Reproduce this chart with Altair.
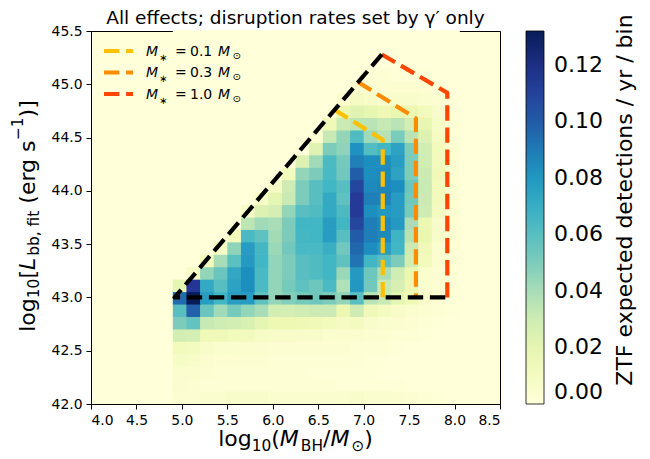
import altair as alt
import pandas as pd

# ---------------- data -----------------
# histogram bins: log10(M_BH) columns and log10(L_bb) rows
X_START, X_STEP, N_COLS = 4.9, 0.15, 21
Y_START, Y_STEP, N_ROWS = 42.0, 3.5 / 30, 30

# expected detections / yr / bin, in units of 1e-3, one list per row (bottom row first)
r00 = [3, 3, 5, 5, 6, 6, 6, 5, 5, 5, 5, 5, 5, 6, 5, 5, 4, 3, 2, 1, 0]
r01 = [4, 3, 2, 2, 2, 2, 2, 2, 2, 2, 2, 2, 1, 1, 1, 1, 1, 0, 0, 0, 0]
r02 = [5, 4, 3, 2, 2, 2, 2, 2, 2, 2, 1, 1, 1, 1, 1, 0, 0, 0, 0, 0, 0]
r03 = [8, 7, 4, 3, 3, 3, 3, 2, 2, 2, 2, 2, 2, 2, 1, 1, 0, 0, 0, 0, 0]
r04 = [11, 10, 6, 5, 5, 4, 4, 3, 3, 3, 3, 3, 3, 2, 2, 2, 1, 0, 0, 0, 0]
r05 = [28, 27, 14, 13, 12, 11, 8, 7, 7, 6, 6, 5, 4, 5, 3, 3, 2, 2, 1, 0, 0]
r06 = [50, 57, 33, 30, 28, 25, 20, 16, 16, 15, 13, 12, 9, 10, 6, 5, 4, 3, 2, 1, 0]
r07 = [60, 98, 55, 42, 52, 45, 40, 28, 27, 30, 31, 31, 17, 30, 14, 10, 7, 5, 3, 2, 1]
r08 = [95, 132, 77, 66, 77, 78, 58, 45, 49, 52, 54, 50, 45, 60, 36, 32, 20, 13, 6, 3, 1]
r09 = [20, 115, 72, 60, 75, 83, 63, 45, 52, 58, 54, 63, 38, 80, 53, 33, 26, 16, 5, 3, 1]
r10 = [0, 8, 45, 55, 73, 83, 64, 45, 50, 60, 62, 66, 43, 79, 54, 40, 29, 18, 5, 3, 1]
r11 = [0, 0, 12, 40, 59, 79, 66, 45, 50, 60, 62, 66, 58, 92, 66, 60, 50, 29, 12, 4, 2]
r12 = [0, 0, 0, 8, 46, 78, 65, 43, 53, 64, 64, 69, 53, 96, 84, 77, 66, 31, 14, 5, 2]
r13 = [0, 0, 0, 0, 12, 63, 58, 41, 50, 65, 66, 77, 60, 100, 89, 85, 67, 37, 18, 6, 3]
r14 = [0, 0, 0, 0, 0, 35, 42, 40, 50, 66, 66, 77, 66, 108, 89, 85, 79, 40, 17, 6, 3]
r15 = [0, 0, 0, 0, 0, 8, 24, 27, 45, 60, 62, 72, 63, 113, 83, 80, 78, 52, 30, 10, 3]
r16 = [0, 0, 0, 0, 0, 0, 8, 20, 32, 50, 60, 72, 58, 113, 88, 87, 78, 53, 31, 12, 3]
r17 = [0, 0, 0, 0, 0, 0, 0, 8, 30, 50, 60, 66, 60, 108, 85, 86, 83, 55, 32, 12, 3]
r18 = [0, 0, 0, 0, 0, 0, 0, 0, 12, 45, 50, 64, 53, 99, 83, 85, 75, 50, 31, 13, 3]
r19 = [0, 0, 0, 0, 0, 0, 0, 0, 0, 24, 42, 63, 52, 88, 83, 83, 77, 50, 29, 12, 3]
r20 = [0, 0, 0, 0, 0, 0, 0, 0, 0, 0, 22, 50, 46, 82, 61, 66, 75, 50, 29, 12, 3]
r21 = [0, 0, 0, 0, 0, 0, 0, 0, 0, 0, 3, 33, 45, 62, 42, 37, 51, 36, 24, 9, 2]
r22 = [0, 0, 0, 0, 0, 0, 0, 0, 0, 0, 0, 14, 31, 35, 36, 33, 36, 27, 19, 8, 2]
r23 = [0, 0, 0, 0, 0, 0, 0, 0, 0, 0, 0, 0, 18, 22, 19, 15, 18, 17, 12, 6, 1]
r24 = [0, 0, 0, 0, 0, 0, 0, 0, 0, 0, 0, 0, 4, 9, 7, 5, 6, 6, 5, 3, 1]
r25 = [0, 0, 0, 0, 0, 0, 0, 0, 0, 0, 0, 0, 0, 4, 3, 3, 3, 3, 3, 2, 0]
r26 = [0, 0, 0, 0, 0, 0, 0, 0, 0, 0, 0, 0, 0, 0, 2, 2, 1, 1, 1, 0, 0]
r27 = [0] * 21
r28 = [0] * 21
r29 = [0] * 21
ROWS = [r00, r01, r02, r03, r04, r05, r06, r07, r08, r09, r10, r11, r12, r13, r14,
        r15, r16, r17, r18, r19, r20, r21, r22, r23, r24, r25, r26, r27, r28, r29]

# dashed boundaries (log10 M_BH, log10 L)
yellow_x = [6.68, 7.21, 7.21]
yellow_y = [44.76, 44.48, 43.0]
orange_x = [6.94, 7.575, 7.575]
orange_y = [45.02, 44.68, 43.0]
red_x = [7.20, 7.92, 7.92]
red_y = [45.28, 44.92, 43.0]
black_x = [7.20, 4.92, 7.92]
black_y = [45.28, 43.0, 43.0]

legend_values = ["0.1", "0.3", "1.0"]
legend_colors = ["#FFC000", "#FF8C00", "#FF4500"]

x_ticks = [4.0, 4.5, 5.0, 5.5, 6.0, 6.5, 7.0, 7.5, 8.0, 8.5]
y_ticks = [42.0, 42.5, 43.0, 43.5, 44.0, 44.5, 45.0, 45.5]
cbar_ticks = [0.0, 0.02, 0.04, 0.06, 0.08, 0.10, 0.12]
VMAX = 0.132

YLGNBU = ["#ffffd9", "#edf8b1", "#c7e9b4", "#7fcdbb", "#41b6c4",
          "#1d91c0", "#225ea8", "#253494", "#081d58"]

# ---------------- tables -----------------
cells = []
for j, row in enumerate(ROWS):
    for i, v in enumerate(row):
        x0 = X_START + i * X_STEP
        y0 = Y_START + j * Y_STEP
        cells.append({"x0": x0, "x1": x0 + X_STEP, "y0": y0, "y1": y0 + Y_STEP, "v": v / 1000.0})
cells = pd.DataFrame(cells)

FONT = "DejaVu Sans"
xscale = alt.Scale(domain=[4.0, 8.5], nice=False, zero=False)
yscale = alt.Scale(domain=[42.0, 45.5], nice=False, zero=False)
xaxis = alt.Axis(values=x_ticks, format=".1f", title=None, grid=False)
yaxis = alt.Axis(values=y_ticks, format=".1f", title=None, grid=False)
cdomain = [VMAX * k / 8 for k in range(9)]
cscale = alt.Scale(domain=cdomain, range=YLGNBU, interpolate="rgb")

# tiny overlap offsets hide antialiasing seams between neighbouring cells
heat = alt.Chart(cells).mark_rect(x2Offset=0.7, y2Offset=-0.7).encode(
    x=alt.X("x0:Q", scale=xscale, axis=xaxis),
    x2="x1:Q",
    y=alt.Y("y0:Q", scale=yscale, axis=yaxis),
    y2="y1:Q",
    color=alt.Color("v:Q", scale=cscale, legend=alt.Legend(
        type="gradient", orient="none", legendX=435, legendY=0, direction="vertical",
        gradientLength=373, gradientThickness=18, values=cbar_ticks, format=".2f",
        labelFontSize=22, labelOffset=10, labelBaseline="middle", labelFont=FONT,
        labelColor="black", labelOverlap=False, title=None, padding=0,
        gradientStrokeColor="black", gradientStrokeWidth=0.8)),
)

DASH = [15.4, 6.7]


def dashed(xs, ys, color):
    df = pd.DataFrame({"x": xs, "y": ys, "o": list(range(len(xs)))})
    return alt.Chart(df).mark_line(strokeDash=DASH, strokeWidth=4.2, strokeCap="butt",
                                   strokeJoin="round", color=color).encode(
        x=alt.X("x:Q", scale=xscale, axis=xaxis),
        y=alt.Y("y:Q", scale=yscale, axis=yaxis),
        order="o:Q")


lines = [dashed(yellow_x, yellow_y, legend_colors[0]),
         dashed(orange_x, orange_y, legend_colors[1]),
         dashed(red_x, red_y, legend_colors[2]),
         dashed(black_x, black_y, "black")]

# ---------------- text helpers -----------------
W = {' ': .318, '(': .390, ')': .390, '[': .390, ']': .390, ',': .318, '.': .318,
     '/': .337, '=': .838, '−': .838, 'a': .613, 'b': .635, 'c': .550, 'd': .635,
     'e': .615, 'f': .352, 'g': .635, 'h': .634, 'i': .278, 'l': .278, 'n': .634,
     'o': .612, 'p': .635, 'r': .411, 's': .521, 't': .392, 'u': .634, 'x': .592,
     'y': .592, 'B': .686, 'H': .752, 'L': .557, 'M': .863, '⊙': .838, '∗': .5}
for d in "0123456789":
    W[d] = .636

ONE = pd.DataFrame({"k": [0]})


def txt(s, x, y, size, italic=False, angle=0, align="left"):
    kw = dict(text=s, fontSize=size, font=FONT, color="black", align=align,
              baseline="alphabetic")
    if italic:
        kw["fontStyle"] = "italic"
    if angle:
        kw["angle"] = angle
    return alt.Chart(ONE).mark_text(**kw).encode(x=alt.value(x), y=alt.value(y))


def width(s, size):
    return sum(W.get(ch, 0.6) for ch in s) * size


def flow(parts, center, base, rotate=False):
    # parts: (text, size, italic, baseline shift, gap before)
    adv = [g + width(s, sz) + (2 if it else 0) for (s, sz, it, sh, g) in parts]
    total = sum(adv)
    out = []
    pos = 0.0
    for (s, sz, it, sh, g), a in zip(parts, adv):
        p = pos + g
        if rotate:
            out.append(txt(s, base + sh, center + total / 2 - p, sz, it, angle=270))
        else:
            out.append(txt(s, center - total / 2 + p, base + sh, sz, it))
        pos += a
    return out


OX, OY = 91, 31  # plot origin on the page
BIG, SUB = 22, 15.4
SP = 0.318 * BIG
texts = []
texts += flow([("log", BIG, False, 0, 0), ("10", SUB, False, 4.5, 0), ("(", BIG, False, 0, 0),
               ("M", BIG, True, 0, 0), ("BH", SUB, False, 4.5, 0), ("/", BIG, False, 0, 0),
               ("M", BIG, True, 0, 0), ("⊙", SUB, False, 4.5, 0), (")", BIG, False, 0, 0)],
              295.5 - OX, 446 - OY)
texts += flow([("log", BIG, False, 0, 0), ("10", SUB, False, 4, 0), ("[", BIG, False, 0, 0),
               ("L", BIG, True, 0, 0), ("bb, fit", SUB, False, 4, 0), ("(erg s", BIG, False, 0, SP),
               ("−1", SUB, False, -12, 0), (")]", BIG, False, 0, 0)],
              216 - OY, 35 - OX, rotate=True)
texts.append(txt("All effects; disruption rates set by γ′ only", 295.5 - OX, 23.5 - OY,
                 18.5, align="center"))
texts.append(txt("ZTF expected detections / yr / bin", 632 - OX, 200 - OY, 22,
                 angle=270, align="center"))

# legend
leg = []
for k, (val, col) in enumerate(zip(legend_values, legend_colors)):
    ly = [51, 72.5, 94][k] - OY
    by = [55.5, 77, 98.5][k] - OY
    leg.append(alt.Chart(ONE).mark_rule(strokeDash=DASH, strokeWidth=4.2, strokeCap="butt",
                                        color=col).encode(
        x=alt.value(104 - OX), x2=alt.value(133 - OX), y=alt.value(ly)))
    leg.append(txt("M", 146 - OX, by, 14, True))
    leg.append(txt("∗", 159 - OX, by + 5, 9.8))
    leg.append(txt("=", 175 - OX, by, 14))
    leg.append(txt(val, 190 - OX, by, 14))
    leg.append(txt("M", 218 - OX, by, 14, True))
    leg.append(txt("⊙", 232.5 - OX, by + 3, 9.8))

chart = alt.layer(heat, *lines, *leg, *texts).properties(
    width=409, height=373,
    autosize=alt.AutoSizeParams(type="none"),
    padding={"left": 83, "top": 23, "right": 142, "bottom": 51},
).configure_view(
    fill="#ffffd9", stroke="black", strokeWidth=1
).configure_axis(
    labelFont=FONT, labelFontSize=13.9, labelColor="black", tickColor="black",
    domainColor="black", tickSize=5, tickWidth=1, domainWidth=1, labelPadding=4,
)

chart.save("out.html", embed_options={"renderer": "svg", "actions": False})
